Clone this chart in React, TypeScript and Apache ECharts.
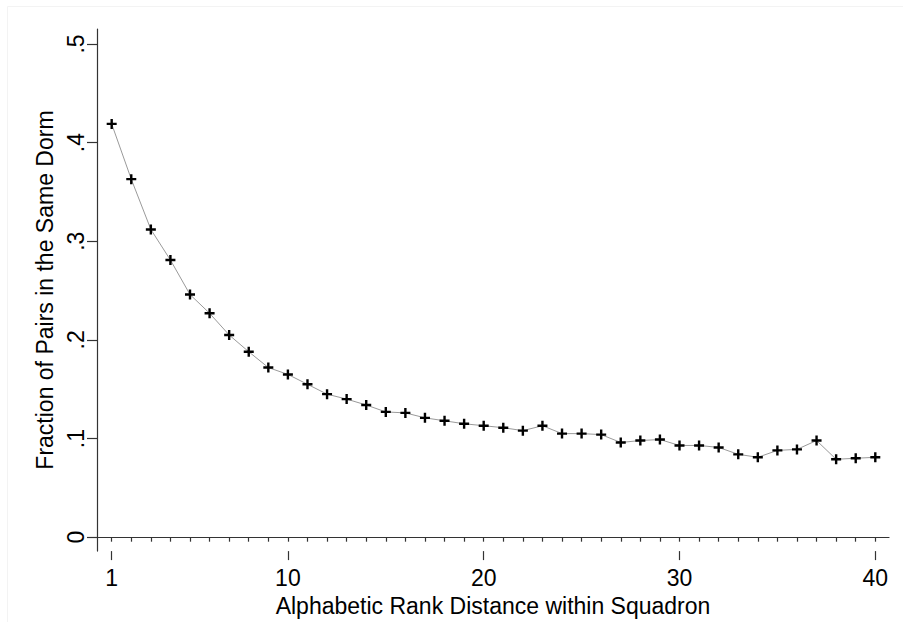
import React, { useEffect, useRef } from "react";
import * as echarts from "echarts";

const rankDistance: number[] = [
  1, 2, 3, 4, 5, 6, 7, 8, 9, 10, 11, 12, 13, 14, 15, 16, 17, 18, 19, 20,
  21, 22, 23, 24, 25, 26, 27, 28, 29, 30, 31, 32, 33, 34, 35, 36, 37, 38, 39, 40,
];
const fractionSameDorm: number[] = [
  0.419, 0.363, 0.312, 0.281, 0.246, 0.227, 0.205, 0.188, 0.172, 0.165,
  0.155, 0.145, 0.140, 0.134, 0.127, 0.126, 0.121, 0.118, 0.115, 0.113,
  0.111, 0.108, 0.113, 0.105, 0.105, 0.104, 0.096, 0.098, 0.099, 0.093,
  0.093, 0.091, 0.084, 0.081, 0.088, 0.089, 0.098, 0.079, 0.080, 0.081,
];
const xMajorTicks: number[] = [1, 10, 20, 30, 40];
const xMinorTicks: number[] = rankDistance;
const yTicks: number[] = [0, 0.1, 0.2, 0.3, 0.4, 0.5];

const FONT = "'Liberation Sans', Arial, sans-serif";
const FS = 23;

export default function App() {
  const ref = useRef<HTMLDivElement>(null);
  useEffect(() => {
    if (!ref.current) return;
    const chart = echarts.init(ref.current, undefined, { renderer: "svg" });
    const axisLine = { show: true, lineStyle: { color: "#333", width: 1.2 } };
    chart.setOption({
      animation: false,
      backgroundColor: "#fff",
      textStyle: { fontFamily: FONT },
      grid: { left: 97, right: 14, top: 29, bottom: 69, containLabel: false },
      graphic: [
        {
          type: "rect",
          shape: { x: 7.5, y: 6.5, width: 1000, height: 1000 },
          style: { fill: "none", stroke: "#f3f3f3", lineWidth: 1 },
          silent: true,
        },
      ],
      xAxis: [
        {
          type: "value",
          min: 0.25,
          max: 40.7,
          position: "bottom",
          axisLine,
          axisTick: { show: true, customValues: xMinorTicks, length: 4.5, lineStyle: { color: "#333", width: 1.2 } },
          axisLabel: { show: false },
          splitLine: { show: false },
        },
        {
          type: "value",
          min: 0.25,
          max: 40.7,
          position: "bottom",
          axisLine: { show: false },
          axisTick: { show: true, customValues: xMajorTicks, length: 9, lineStyle: { color: "#333", width: 1.2 } },
          axisLabel: {
            customValues: xMajorTicks,
            color: "#000",
            fontSize: FS,
            fontFamily: FONT,
            margin: 15,
          },
          splitLine: { show: false },
          name: "Alphabetic Rank Distance within Squadron",
          nameLocation: "middle",
          nameGap: 38,
          nameTextStyle: { color: "#000", fontSize: FS, fontFamily: FONT },
        },
      ],
      yAxis: {
        type: "value",
        min: -0.0141,
        max: 0.5152,
        axisLine,
        axisTick: { show: true, customValues: yTicks, length: 10, lineStyle: { color: "#333", width: 1.2 } },
        axisLabel: {
          customValues: yTicks,
          rotate: 90,
          color: "#000",
          fontSize: FS,
          fontFamily: FONT,
          margin: 10,
          formatter: (v: number) => (v === 0 ? "0" : String(Math.round(v * 10) / 10).replace(/^0/, "")),
        },
        splitLine: { show: false },
        name: "Fraction of Pairs in the Same Dorm",
        nameLocation: "middle",
        nameRotate: 90,
        nameGap: 37,
        nameTextStyle: { color: "#000", fontSize: FS, fontFamily: FONT },
      },
      series: [
        {
          type: "line",
          xAxisIndex: 0,
          data: rankDistance.map((x, i) => [x, fractionSameDorm[i]]),
          lineStyle: { color: "#9a9a9a", width: 1 },
          symbol: "path://M3.8,0H6.2V3.8H10V6.2H6.2V10H3.8V6.2H0V3.8H3.8Z",
          symbolSize: 10,
          itemStyle: { color: "#000" },
          showSymbol: true,
        },
      ],
    });
    return () => chart.dispose();
  }, []);
  return (
    <div
      ref={ref}
      style={{ position: "fixed", left: 0, top: 0, width: 903, height: 622, background: "#fff" }}
    />
  );
}
